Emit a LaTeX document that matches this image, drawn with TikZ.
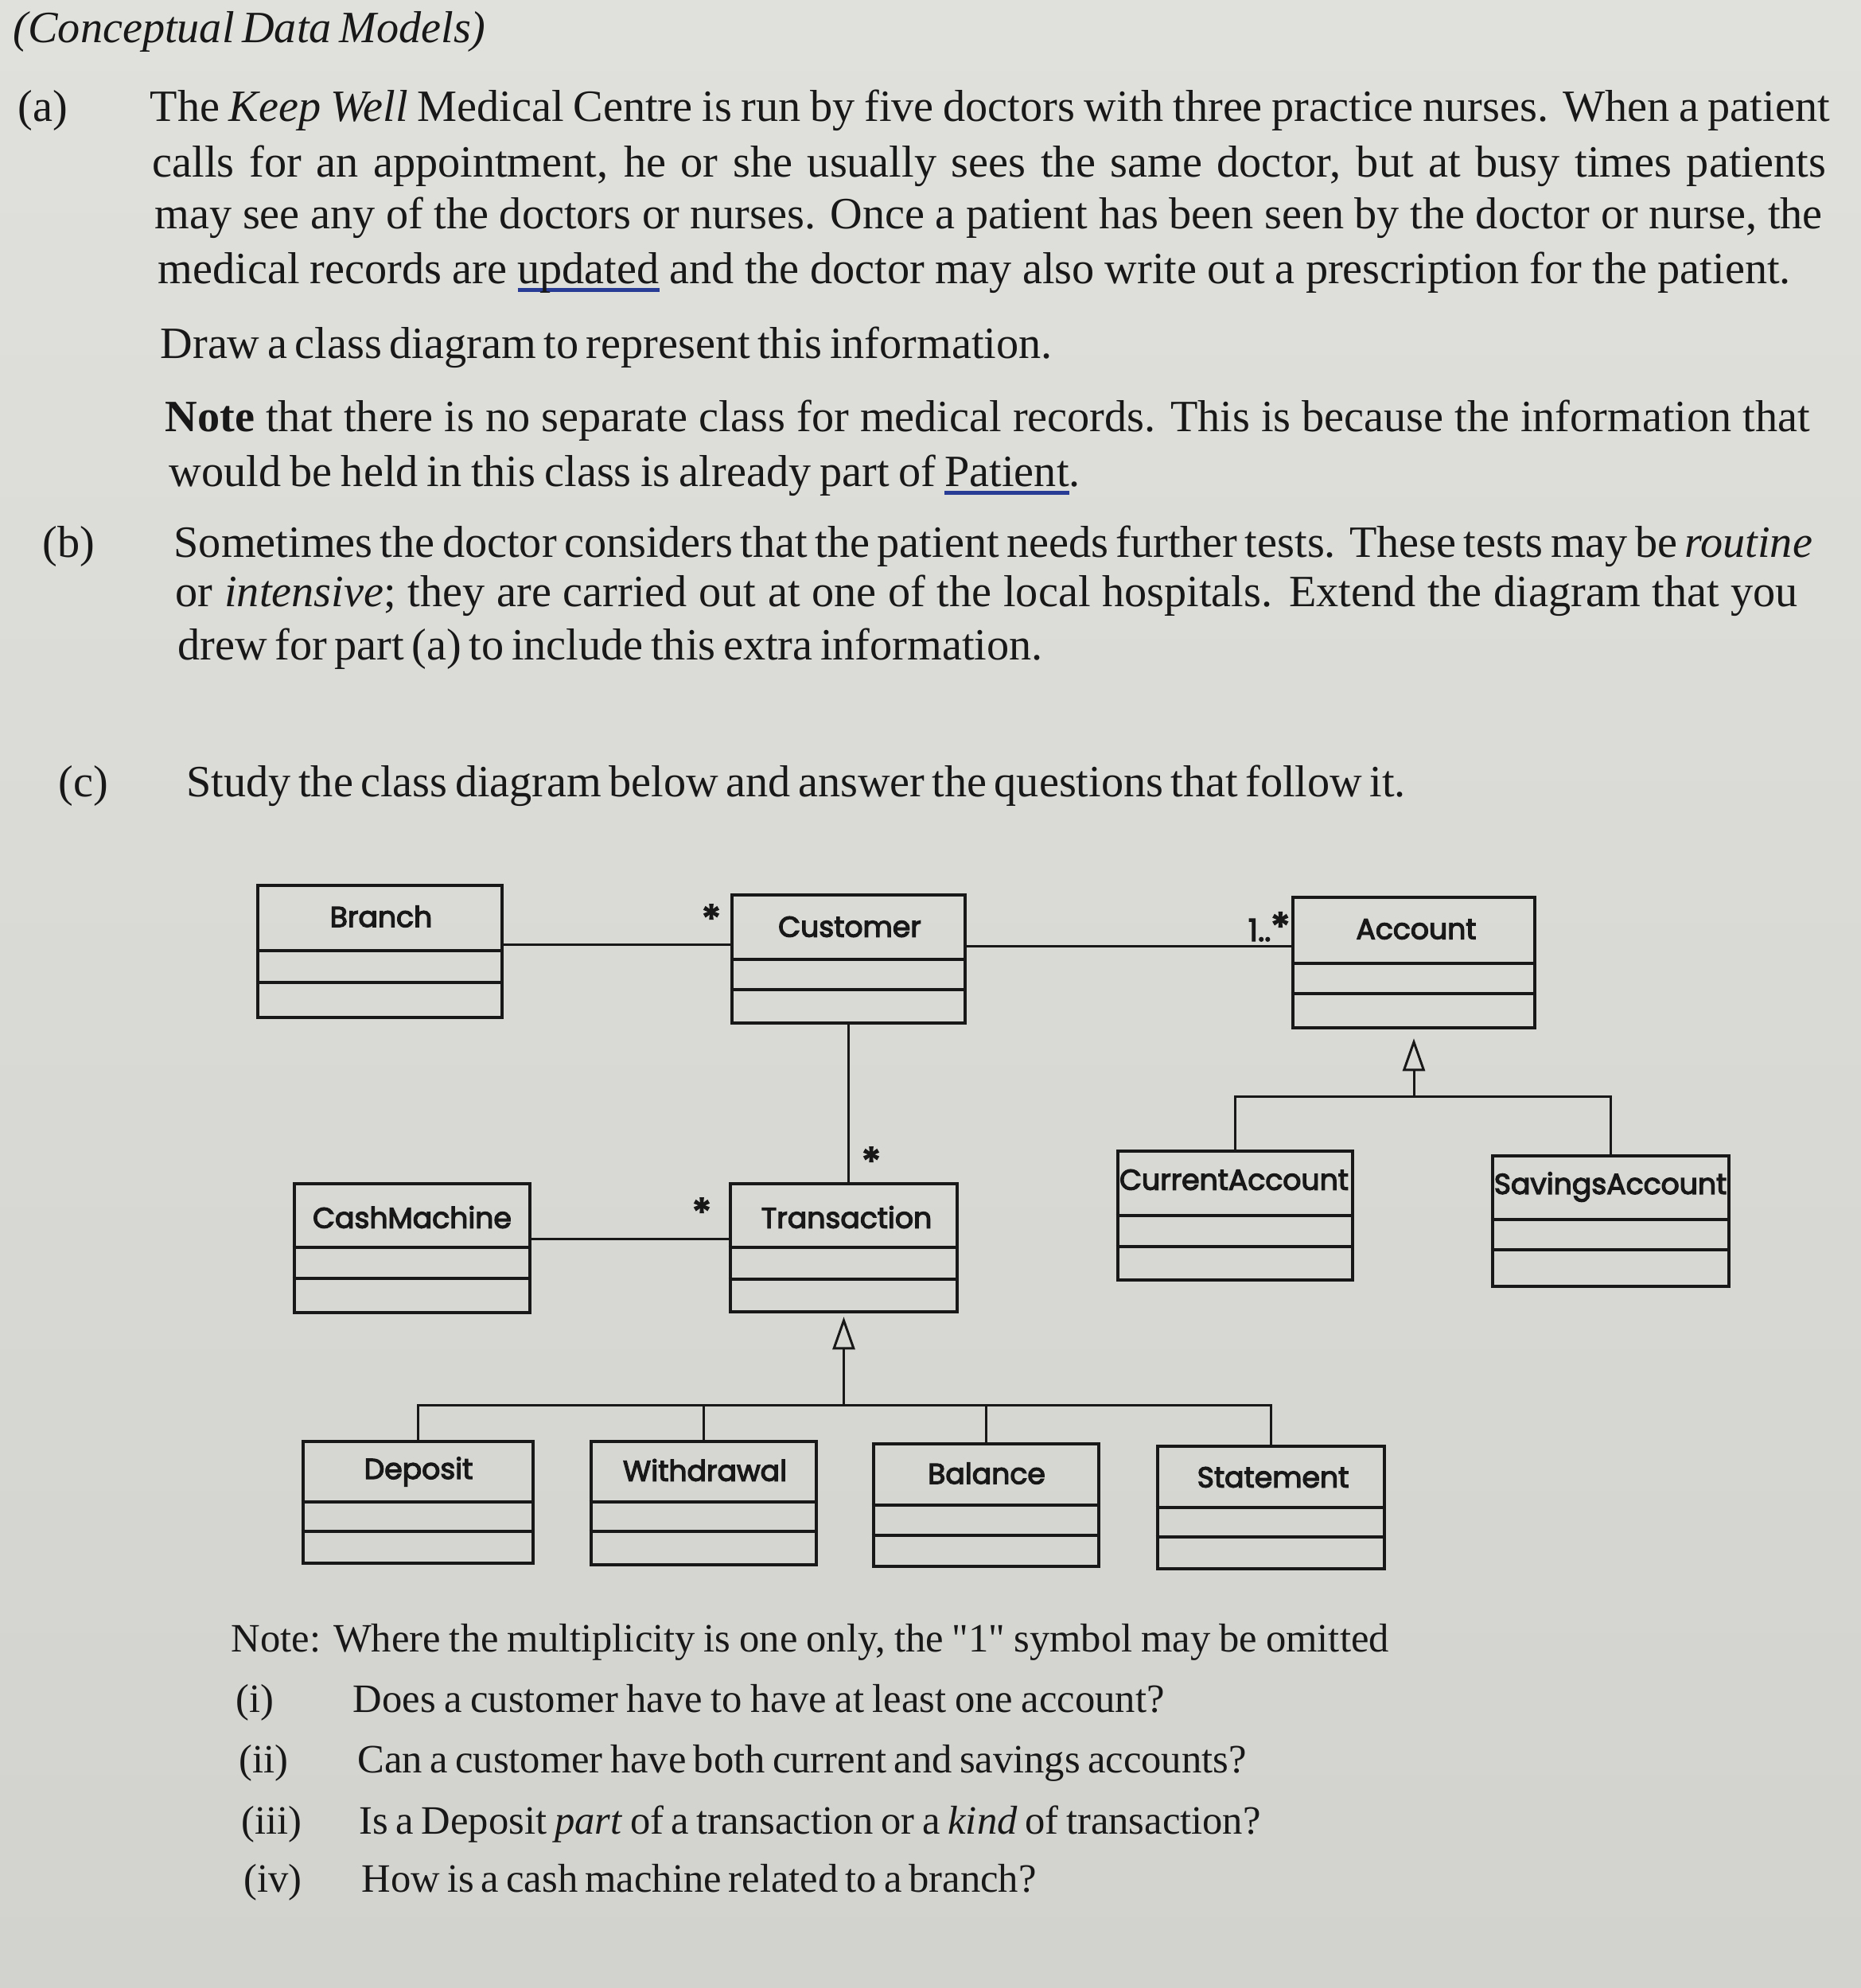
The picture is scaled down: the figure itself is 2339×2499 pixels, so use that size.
\documentclass[tikz,border=0pt]{standalone}
\usepackage{fontspec}
\setmainfont{Liberation Serif}
\newfontfamily\qfont{Liberation Serif}
\newfontfamily\umlfont[FakeBold=3.5]{Poppins}
\usetikzlibrary{arrows.meta,fit}
\definecolor{bgtop}{RGB}{224,224,220}
\definecolor{bgbot}{RGB}{210,211,207}
\definecolor{ink}{RGB}{24,24,24}
\definecolor{ulblue}{RGB}{40,60,150}
\newcommand\bluul[1]{\setbox0\hbox{#1}\rlap{\color{ulblue}\rule[-0.2em]{\wd0}{0.09em}}#1}
\newcommand\bigstar{{\fontsize{14}{14}\selectfont *}}
\newcommand\umlclass[9]{%
  \node[cls, fit={(#2,#3) (#4,#5)}] (#1) {};
  \draw[cls] (#1.west |- 0,#6) -- (#1.east |- 0,#6);
  \draw[cls] (#1.west |- 0,#7) -- (#1.east |- 0,#7);
  \node[clab] (#1-name) at (#8) {#9};
}
\tikzset{
  txt/.style={anchor=mid west, inner sep=0pt, text=ink, font=\fontsize{16}{19}\selectfont},
  txts/.style={anchor=mid west, inner sep=0pt, text=ink, font=\fontsize{14.4}{17}\selectfont},
  cls/.style={draw=ink, line width=1.3pt, inner sep=0pt},
  clab/.style={inner sep=0pt, text=ink, font=\umlfont\fontsize{10.3}{12}\selectfont},
  assoc/.style={draw=ink, line width=0.85pt},
  mult/.style={inner sep=0pt, text=ink, font=\umlfont\fontsize{11}{12}\selectfont},
  gen/.style={draw=ink, line width=0.85pt, -{Triangle[open, length=4.1mm, width=2.8mm, line width=0.85pt]}},
}
\begin{document}
\begin{tikzpicture}[x=0.1mm, y=-0.1mm]
\useasboundingbox (0,0) rectangle (2339,2499);
\shade[top color=bgtop, bottom color=bgbot] (0,0) rectangle (2339,2499);

% ---------- text ----------
\node[txt] (title) at (16,45) {\makebox[59.4mm][s]{\itshape (Conceptual Data Models)}};
\node[txt] (la) at (22,144) {(a)};
\node[txt] (a1) at (188,144) {\makebox[211.1mm][s]{The \textit{Keep Well} Medical Centre is run by five doctors with three practice nurses. When a patient}};
\node[txt] (a2) at (191,214) {\makebox[210.3mm][s]{calls for an appointment, he or she usually sees the same doctor, but at busy times patients}};
\node[txt] (a3) at (194,279) {\makebox[209.6mm][s]{may see any of the doctors or nurses. Once a patient has been seen by the doctor or nurse, the}};
\node[txt] (a4) at (198,348) {\makebox[205.2mm][s]{medical records are \bluul{updated} and the doctor may also write out a prescription for the patient.}};
\node[txt] (a5) at (201,442) {\makebox[112.1mm][s]{Draw a class diagram to represent this information.}};
\node[txt] (a6) at (207,534) {\makebox[206.7mm][s]{\textbf{Note} that there is no separate class for medical records. This is because the information that}};
\node[txt] (a7) at (212,603) {\makebox[114.5mm][s]{would be held in this class is already part of \bluul{Patient}.}};
\node[txt] (lb) at (53,692) {(b)};
\node[txt] (b1) at (218,692) {\makebox[204.4mm][s]{Sometimes the doctor considers that the patient needs further tests. These tests may be \textit{routine}}};
\node[txt] (b2) at (220,754) {\makebox[203.9mm][s]{or \textit{intensive}; they are carried out at one of the local hospitals. Extend the diagram that you}};
\node[txt] (b3) at (223,821) {\makebox[108.7mm][s]{drew for part (a) to include this extra information.}};
\node[txt] (lc) at (73,993) {(c)};
\node[txt] (c1) at (234,993) {\makebox[149.5mm][s]{Study the class diagram below and answer the questions that follow it.}};

\node[txts] (note) at (290,2068) {\makebox[145.5mm][s]{Note: Where the multiplicity is one only, the {\qfont"1"} symbol may be omitted}};
\node[txts] (li) at (296,2144) {(i)};
\node[txts] (qi) at (443,2144) {\makebox[102.0mm][s]{Does a customer have to have at least one account?}};
\node[txts] (lii) at (300,2220) {(ii)};
\node[txts] (qii) at (449,2220) {\makebox[111.7mm][s]{Can a customer have both current and savings accounts?}};
\node[txts] (liii) at (303,2297) {(iii)};
\node[txts] (qiii) at (451,2297) {\makebox[113.3mm][s]{Is a Deposit \textit{part} of a transaction or a \textit{kind} of transaction?}};
\node[txts] (liv) at (306,2370) {(iv)};
\node[txts] (qiv) at (454,2370) {\makebox[84.8mm][s]{How is a cash machine related to a branch?}};

% ---------- classes ----------
\umlclass{branch}{324}{1113}{631}{1279}{1195}{1235}{479,1152}{Branch}
\umlclass{cust}{920}{1125}{1213}{1286}{1206}{1244}{1068,1165}{Customer}
\umlclass{acct}{1625}{1128}{1929}{1292}{1211}{1249}{1780,1168}{Account}
\umlclass{cash}{370}{1488}{666}{1650}{1568}{1607}{518,1530}{CashMachine}
\umlclass{trans}{918}{1488}{1203}{1649}{1568}{1608}{1064,1530}{Transaction}
\umlclass{cur}{1405}{1447}{1700}{1609}{1528}{1567}{1551,1483}{CurrentAccount}
\umlclass{sav}{1876}{1453}{2173}{1617}{1533}{1571}{2024,1492}{SavingsAccount}
\umlclass{dep}{381}{1812}{670}{1965}{1888}{1925}{526,1850}{Deposit}
\umlclass{wd}{743}{1812}{1026}{1967}{1888}{1925}{886,1848}{Withdrawal}
\umlclass{bal}{1098}{1815}{1381}{1969}{1892}{1930}{1240,1852}{Balance}
\umlclass{stm}{1455}{1818}{1740}{1972}{1895}{1932}{1600,1857}{Statement}

% ---------- associations ----------
\draw[assoc] (branch.east |- 0,1187) -- (cust.west |- 0,1187);
\draw[assoc] (cust.east |- 0,1189) -- (acct.west |- 0,1189);
\draw[assoc] (cust.south) -- (cust.south |- trans.north);
\draw[assoc] (cash.east |- 0,1557) -- (trans.west |- 0,1557);

\node[mult] (m1) at (894,1155) {\bigstar};
\node[mult, anchor=east] (m2) at (1622,1165) {1..\bigstar};
\node[mult] (m3) at (1095,1460) {\bigstar};
\node[mult] (m4) at (882,1524) {\bigstar};

% ---------- generalisations ----------
\coordinate (accbar) at (acct.south |- 0,1378);
\draw[assoc] (cur.north) |- (accbar) -| (sav.north);
\draw[gen, shorten >=1.1mm] (accbar) -- (acct.south);

\coordinate (trbar) at (trans.south |- 0,1766);
\draw[assoc] (dep.north) |- (trbar) -| (stm.north);
\draw[assoc] (wd.north) -- (wd.north |- trbar);
\draw[assoc] (bal.north) -- (bal.north |- trbar);
\draw[gen, shorten >=0.4mm] (trbar) -- (trans.south);
\end{tikzpicture}
\end{document}
